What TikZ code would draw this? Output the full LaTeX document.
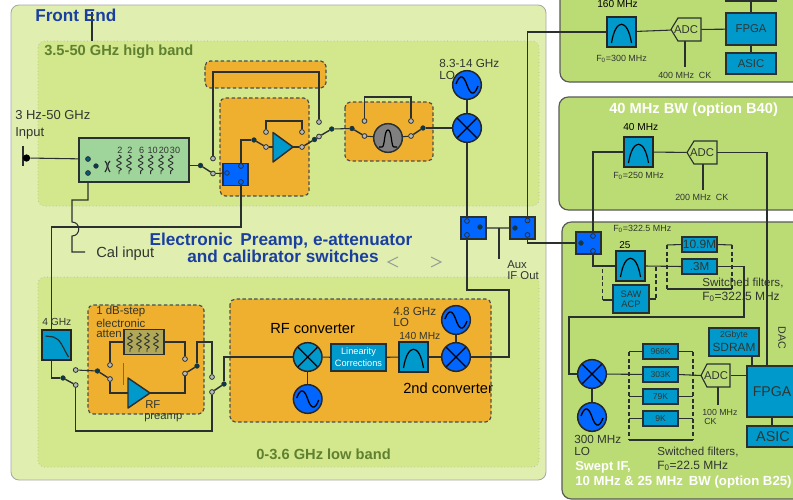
\documentclass[tikz,border=0pt]{standalone}
\usepackage{fontspec}
\setmainfont{Liberation Sans}
\usetikzlibrary{decorations.pathmorphing}
\pgfdeclarelayer{bg}\pgfdeclarelayer{wires}
\pgfsetlayers{bg,wires,main}
\newcommand\fs[1]{\fontsize{#1}{#1}\selectfont}
\definecolor{frontc}{HTML}{E0EEB0}
\definecolor{bandc}{HTML}{D3E88C}
\definecolor{blockc}{HTML}{BBDB75}
\definecolor{orangec}{HTML}{F0B02F}
\definecolor{swblue}{HTML}{0066FF}
\definecolor{teal1}{HTML}{0099CC}
\definecolor{dark}{HTML}{2A3030}
\definecolor{oliv}{HTML}{5F8030}
\definecolor{navy1}{HTML}{1A3FA0}
\definecolor{txtc}{HTML}{303630}
\definecolor{attc}{HTML}{B0A858}
\definecolor{attg}{HTML}{9FD49A}
\tikzset{
 wire/.style={draw=dark,line width=0.8pt},
 armw/.style={draw=dark,line width=1.05pt},
 dash1/.style={draw=dark,line width=0.8pt,dash pattern=on 3pt off 2pt},
 tx/.style={font=\fs{#1},inner sep=0pt,anchor=west,text=txtc},
 txc/.style={font=\fs{#1},inner sep=0pt,anchor=center,text=txtc},
 front/.style={fill=frontc,draw=black!35,line width=0.6pt,rounded corners=6pt},
 band/.style={fill=bandc,draw=black!30,line width=0.5pt,dotted,rounded corners=5pt},
 block/.style={fill=blockc,draw=black!65,line width=0.9pt,rounded corners=7pt},
 orng/.style={fill=orangec,draw=dark!85,line width=0.9pt,dash pattern=on 2.6pt off 1.8pt,rounded corners=4pt},
 ct/.style={circle,inner sep=0pt,minimum size=3.6pt,fill=black!28,draw=dark,line width=0.6pt},
 pv/.style={circle,inner sep=0pt,minimum size=3.4pt,fill=teal1!40!black,draw=dark,line width=0.5pt},
 sq/.style n args={2}{rectangle,inner sep=0pt,minimum width=#1*0.75pt,minimum height=#2*0.75pt},
 sw/.style={sq={25}{22},fill=swblue,draw=dark,line width=0.8pt},
 tbox/.style 2 args={sq={#1}{#2},fill=teal1,draw=dark,line width=0.9pt,text=txtc},
 filt/.style={sq={29}{30},fill=teal1,draw=black!85,line width=1.1pt,
   path picture={\begin{scope}[shift={(path picture bounding box.center)}]
   \draw[black,line width=0.9pt] (-10,11) .. controls (-6,-14) and (6,-14) .. (10,11);\end{scope}}},
 lowp/.style={sq={29}{30},fill=teal1,draw=black!85,line width=1.1pt,
   path picture={\begin{scope}[shift={(path picture bounding box.center)}]
   \draw[dark,line width=0.9pt] (-11,-9) -- (-3,-8) .. controls (4,-6) and (6,2) .. (12,12);\end{scope}}},
 mix/.style={circle,inner sep=0pt,minimum size=21.5pt,fill=#1,draw=black!85,line width=1.1pt,
   path picture={\draw[black,line width=0.9pt] (path picture bounding box.north west)--(path picture bounding box.south east)
     (path picture bounding box.north east)--(path picture bounding box.south west);}},
 osc/.style={circle,inner sep=0pt,minimum size=21.5pt,fill=swblue,draw=black!85,line width=1.1pt,
   path picture={\begin{scope}[shift={(path picture bounding box.center)}]
   \draw[black,line width=1pt] (-11,-1) .. controls (-7,-12) and (-3,-9) .. (0,0) .. controls (3,9) and (7,12) .. (11,1);\end{scope}}},
 ampst/.style={fill=teal1,draw=dark,line width=1.1pt,line join=round},
 squig/.style={draw=dark,line width=0.7pt,decorate,decoration={snake,segment length=4.6pt,amplitude=1.7pt}},
 adcst/.style={draw=dark,line width=0.85pt},
}
\begin{document}
\begin{tikzpicture}[x=0.75pt,y=-0.75pt]
\useasboundingbox (0,0) rectangle (793,500);
\begin{pgfonlayer}{bg}
\fill[white] (0,0) rectangle (793,500);
\draw[front] (11,5) rectangle (546,480);
\draw[band] (38,41) rectangle (539,206);
\draw[band] (38,277) rectangle (539,467);
\draw[orng] (205,61) rectangle (326,88);
\draw[orng] (220,98) rectangle (309,196);
\draw[orng] (345,102) rectangle (433,161);
\draw[orng] (88,305) rectangle (204,414);
\draw[orng] (230,299) rectangle (491,422);
\draw[block] (560,-20) rectangle (820,82);
\draw[block] (559,97) rectangle (820,210);
\draw[block] (562,222) rectangle (820,499);
\end{pgfonlayer}

% ---- titles
\coordinate (festem) at (92,12);
\coordinate (hbtop) at (92,41);
\node (tFE) [tx=12.9,text=navy1,font=\fs{12.9}\bfseries] at (35,15) {Front End};
\node (tHB) [tx=11,text=oliv,font=\fs{11}\bfseries] at (44,52) {3.5-50 GHz high band};
\node (tLB) [tx=11,text=oliv,font=\fs{11}\bfseries] at (256,454) {0-3.6 GHz low band};
\node (tEP) [txc=12.9,text=navy1,font=\fs{12.9}\bfseries] at (281,241) {Electronic\, Preamp, e-attenuator};
\node (tEQ) [txc=12.9,text=navy1,font=\fs{12.9}\bfseries] at (283,256) {and calibrator switches};
\node (tIn1) [tx=9.75] at (15,115) {3 Hz-50 GHz};
\node (tIn2) [tx=9.75] at (15,133) {Input};
\node (tCal) [tx=11] at (96,254) {Cal input};

% ---- input attenuator
\node (inp) [circle,fill=black,inner sep=0pt,minimum size=5.5pt] at (26.5,158) {};
\coordinate (bara) at (23,146); \coordinate (barb) at (23,166);
\node (atb) [sq={110}{44},fill=attg,draw=dark,line width=0.9pt] at (134,160) {};
\node (c1) [ct,fill=teal1!60!black] at (88,159) {};
\node (c2) [ct,fill=teal1!60!black] at (88,173) {};
\node (p1) [pv] at (96,166) {};
\coordinate (capa) at (106,166);
\draw[dark,line width=0.9pt] (105,161) .. controls (108,164) and (108,168) .. (105,172);
\draw[dark,line width=0.9pt] (110,161) .. controls (107,164) and (107,168) .. (110,172);
\foreach \nn/\xx/\tt/\lab in {r1/119/120/2,r2/129/130/2,r3/140.7/141.7/6,r4/150.7/152.7/10,r5/161/164/20,r6/170.7/175/30}{
  \draw[squig] (\xx,155) -- (\xx,174);
  \node (\nn) [txc=6.8] at (\tt,150) {\lab};
}
\coordinate (calend) at (85,252);

% ---- high band
\node (p2) [pv] at (200.5,165.5) {};
\node (c5) [ct] at (213,173.5) {};
\node (c6) [ct] at (213,158.5) {};
\node (sw0) [sw] at (235.5,174.5) {};
\node (p3) [pv,fill=swblue] at (227,173) {};
\node (c3) [ct,fill=swblue] at (241,166) {};
\node (c4) [ct,fill=swblue] at (241,182) {};
\node (p4) [pv] at (254,140) {};
\node (c7) [ct] at (266,147) {};
\node (c8) [ct] at (266,132) {};
\draw[ampst] (273,132.5) coordinate (ampa) -- (273,162) -- (293,147) coordinate (ampb) -- cycle;
\coordinate (ampin) at (273,147);
\node (c9) [ct] at (302,147) {};
\node (c10) [ct] at (302,132) {};
\node (p5) [pv] at (314.5,139.5) {};
\node (c11) [ct] at (319,136.5) {};
\node (c12) [ct] at (319,122) {};
\node (p6) [pv] at (331.7,129) {};
\node (p7) [pv] at (352,128.5) {};
\node (c13) [ct] at (364.5,136) {};
\node (c14) [ct] at (364.5,121) {};
\node (bp) [circle,inner sep=0pt,minimum size=21.5pt,fill=black!50,draw=dark,line width=1.1pt,
   path picture={\begin{scope}[shift={(path picture bounding box.center)}]
   \draw[black,line width=0.9pt] (-9,9) -- (-6,9) .. controls (-3,9) and (-4,-8) .. (0,-8) .. controls (4,-8) and (3,9) .. (6,9) -- (9,9);\end{scope}}] at (388,138) {};
\node (c15) [ct] at (411,136) {};
\node (c16) [ct] at (411,121) {};
\node (p8) [pv] at (423,128) {};
\node (mxh) [mix=swblue] at (467,128) {};
\node (olh) [osc] at (467,85) {};
\node (t83) [tx=8.8] at (439,63) {8.3-14 GHz};
\node (t83b) [tx=8.8] at (439,75) {LO};

% ---- IF switches
\node (sw1) [sw] at (473.5,228) {};
\node (c17) [ct,fill=swblue] at (467,221) {};
\node (c18) [ct,fill=swblue] at (467,235) {};
\node (p9) [pv] at (480,227) {};
\node (sw2) [sw] at (522.5,228) {};
\node (p10) [pv] at (515,228) {};
\node (c19) [ct,fill=swblue] at (527.5,220.5) {};
\node (c20) [ct,fill=swblue] at (527.5,235) {};
\coordinate (auxt) at (499,227.5);
\coordinate (auxb) at (499,259);
\node (tAux) [tx=8.5] at (507,265) {Aux};
\node (tIF) [tx=8.5] at (507,276) {IF Out};
\draw[black!40,line width=0.7pt] (398,257) -- (388,262) -- (398,267);
\draw[black!40,line width=0.7pt] (431,257) -- (441,262) -- (431,267);

% ---- low band
\node (lp) [lowp] at (56.5,345) {};
\node (t4G) [tx=7.7] at (42,322) {4 GHz};
\node (p11) [pv] at (63,378) {};
\node (c21) [ct] at (75.7,370) {};
\node (c22) [ct] at (75.7,385) {};
\node (p12) [pv] at (97.5,371) {};
\node (c23) [ct] at (110,379) {};
\node (c24) [ct] at (110,365) {};
\node (att) [sq={40}{25},fill=attc,draw=dark,line width=0.9pt] at (144,342) {};
\foreach \xx in {130,139,147,156}{\draw[squig] (\xx,333) -- (\xx,352);}
\node (t1dB) [tx=8.6] at (96,312) {1 dB-step};
\node (t1e) [tx=8.6] at (96,323) {electronic};
\node (t1a) [tx=8.6] at (96,334) {atten};
\draw[orangec!60!black,line width=0.4pt] (123,363) -- (123,385);
\draw[ampst] (128,378) -- (128,408) -- (150,393) coordinate (amp2b) -- cycle;
\coordinate (amp2a) at (128,393);
\node (tRF) [tx=8.5] at (145,405) {RF};
\node (tPre) [tx=8.4] at (144,418) {preamp};
\node (c25) [ct] at (185,373.5) {};
\node (c26) [ct] at (185,359) {};
\node (p13) [pv] at (197,366) {};
\node (c27) [ct] at (212,377) {};
\node (c28) [ct] at (212,392) {};
\node (p14) [pv] at (224,384) {};
\node (tRFc) [tx=11,text=black] at (270,329) {RF converter};
\node (mx1) [mix=teal1] at (307.7,357) {};
\node (os1) [osc] at (307.7,399) {};
\node (lin) [tbox={55}{27}] at (358.5,357.5) {};
\node (tLin1) [txc=6.9,text=white] at (358.5,352.5) {Linearity};
\node (tLin2) [txc=6.9,text=white] at (358.5,363) {Corrections};
\node (f140) [filt] at (413.5,357) {};
\node (t140) [tx=7.7] at (399,336) {140 MHz};
\node (mx2) [mix=swblue] at (456,357) {};
\node (os2) [osc] at (456,320) {};
\node (t48) [tx=8.8] at (393,311) {4.8 GHz};
\node (t48b) [tx=8.8] at (393,322) {LO};
\node (t2nd) [tx=11,text=black] at (403,388) {2nd converter};
\coordinate (ifr) at (509,357);

% ---- block 1 (top right)
\node (f160) [filt] at (621.5,32) {};
\node (t160) [tx=7.6,text=black] at (597,4) {160 MHz};
\node (tF1) [tx=6.7] at (596,59) {F\textsubscript{0}=300 MHz};
\draw[adcst] (671,29.5) -- (678,18) -- (701,18) -- (701,41) -- (678,41) -- cycle;
\node (adc1) [sq={30}{23}] at (686,29.5) {\fs{8.5}\color{txtc}ADC};
\coordinate (ck1) at (685,67);
\node (tck1) [tx=6.7] at (658,75) {400 MHz\; CK};
\node (fp1) [tbox={50}{32},font=\fs{8.5}] at (751,29) {FPGA};
\node (as1) [tbox={50}{21},font=\fs{8.5}] at (751,63.5) {ASIC};
\node (top1) [tbox={50}{6}] at (751,-2) {};

% ---- block 2
\node (tB40) [tx=11,text=white,font=\fs{11}\bfseries] at (609,110) {40 MHz BW (option B40)};
\node (t40) [tx=7.6,text=black] at (623,127) {40 MHz};
\node (f40) [filt] at (638.5,152) {};
\node (tF2) [tx=6.7] at (613,176) {F\textsubscript{0}=250 MHz};
\draw[adcst] (687,152.5) -- (694,141) -- (717,141) -- (717,164) -- (694,164) -- cycle;
\node (adc2) [sq={30}{23}] at (702,152.5) {\fs{8.5}\color{txtc}ADC};
\coordinate (ck2) at (703,190);
\node (tck2) [tx=6.7] at (675,197) {200 MHz\; CK};

% ---- block 3
\node (sw3) [sw] at (588.5,243) {};
\node (p15) [pv] at (581,243) {};
\node (c29) [ct,fill=swblue] at (593,236) {};
\node (c30) [ct,fill=swblue] at (593,251) {};
\node (tF3) [tx=6.7] at (613,229) {F\textsubscript{0}=322.5 MHz};
\node (t25) [tx=7.5,text=black] at (619,245) {25};
\node (f25) [filt] at (630.5,266) {};
\node (saw) [tbox={36}{28}] at (631,299) {};
\node (tS1) [txc=7] at (631,294) {SAW};
\node (tS2) [txc=7] at (631,304.5) {ACP};
\node (f109) [tbox={35}{15},font=\fs{9}] at (699.5,244.5) {10.9M};
\node (f3m) [tbox={35}{15},font=\fs{8.7}] at (699.5,266.5) {.3M};
\coordinate (d1a) at (602.5,269); \coordinate (d1b) at (602.5,300);
\coordinate (d2a) at (656,267); \coordinate (d2b) at (656,299);
\coordinate (d3a) at (667,245); \coordinate (d3b) at (667,289);
\coordinate (d4a) at (732,245); \coordinate (d4b) at (732,289);
\node (tSw1) [tx=8.7] at (702,283) {Switched filters,};
\node (tSw2) [tx=9] at (702,297) {F\textsubscript{0}=322.5 MHz};
\node (mx3) [mix=swblue] at (592,374) {};
\node (os3) [osc] at (592,417) {};
\node (t300) [tx=8.8] at (574,439) {300 MHz};
\node (t300b) [tx=8.8] at (574,451) {LO};
\node (f966) [tbox={35}{15},font=\fs{6.4}] at (660.5,351.5) {966K};
\node (f303) [tbox={35}{15},font=\fs{6.4}] at (660.5,374.5) {303K};
\node (f79) [tbox={35}{15},font=\fs{6.4}] at (660.5,396.5) {79K};
\node (f9) [tbox={35}{15},font=\fs{6.4}] at (660.5,418.5) {9K};
\coordinate (d5a) at (629,352); \coordinate (d5b) at (629,440);
\coordinate (d6a) at (693,352); \coordinate (d6b) at (693,440);
\draw[adcst] (701,375.5) -- (707,364) -- (730,364) -- (730,387) -- (707,387) -- cycle;
\node (adc3) [sq={29}{23}] at (716,375.5) {\fs{8.5}\color{txtc}ADC};
\coordinate (ck3) at (718,405);
\node (t100) [tx=6.6] at (702,412) {100 MHz};
\node (t100b) [tx=6.6] at (704,421) {CK};
\node (sdr) [tbox={50}{28}] at (734,342) {};
\node (tSd1) [txc=6.5] at (734,335) {2Gbyte};
\node (tSd2) [txc=8.9] at (734,347) {SDRAM};
\node (fp3) [tbox={60}{51}] at (777,391.5) {};
\node (tFP3) [txc=10.6] at (772,391.5) {FPGA};
\node (as3) [tbox={60}{21}] at (777,436.5) {};
\node (tAS3) [txc=10.8] at (773,436.5) {ASIC};
\node (tDAC) [txc=8,rotate=-90] at (782,338) {DAC};
\node (tSw3) [tx=8.7] at (657,452) {Switched filters,};
\node (tSw4) [tx=9] at (657,466) {F\textsubscript{0}=22.5 MHz};
\node (tSI) [tx=9.7,text=white,font=\fs{9.7}\bfseries] at (575,467) {Swept IF,};
\node (tBW) [tx=9.9,text=white,font=\fs{9.9}\bfseries] at (575,482) {10 MHz \& 25 MHz\, BW (option B25)};

% ---- connectors
\begin{pgfonlayer}{wires}
\draw[wire] (festem) -- (hbtop);
\draw[wire,line width=1pt] (bara) -- (barb);
\draw[wire] (inp) -- (c1);
\draw[armw] (c2) -- (p1) -- (capa);
\draw[wire] (c2) |- (72,200) -- (72,222) .. controls (81,222) and (81,236) .. (72,236) -- (72,252) -- (calend);
\draw[wire] (p2 -| atb.east) -- (p2);
\draw[armw] (p2) -- (c5);
\draw[wire] (c5) -- (p3);
\draw[armw] (p3) -- (c3);
\draw[wire] (c3) |- (p4);
\draw[armw] (p4) -- (c7);
\draw[wire] (c7) -- (ampin);
\draw[wire] (c8) |- (266,121) -| (c10);
\draw[wire] (ampb) -- (c9);
\draw[armw] (c9) -- (p5) -- (c11) -- (p6);
\draw[wire] (c6) |- (212,72) -| (c12);
\draw[wire] (p6) -- (p7);
\draw[armw] (p7) -- (c13);
\draw[wire] (c13) -- (bp);
\draw[wire] (c14) |- (364,97) -| (c16);
\draw[wire] (bp) -- (c15);
\draw[armw] (c15) -- (p8);
\draw[wire] (p8) -- (mxh);
\draw[wire] (mxh) -- (olh);
\draw[wire] (mxh) -- (c17);
\draw[armw] (c18) -- (p9);
\draw[wire] (p9) -- (sw1.east) -- (p10);
\draw[armw] (p10) -- (c19);
\draw[wire] (auxt) -- (auxb);
\draw[wire] (c4) |- (51.7,227) -- (lp.north -| 51.7,0);
\draw[wire] (51.7,360) |- (p11);
\draw[armw] (p11) -- (c22);
\draw[wire] (c21) -- (p12);
\draw[armw] (p12) -- (c23);
\draw[wire] (c23) |- (amp2a);
\draw[wire] (c24) |- (att.west);
\draw[wire] (att.east) -| (c26);
\draw[wire] (amp2b) -| (c25);
\draw[armw] (c25) -- (p13);
\draw[wire] (p13) |- (212,342) -- (c27);
\draw[wire] (c28) |- (75.7,431) -- (c22);
\draw[armw] (c28) -- (p14);
\draw[wire] (p14) |- (mx1.west);
\draw[wire] (mx1) -- (os1);
\draw[wire] (mx1) -- (lin);
\draw[wire] (lin) -- (f140);
\draw[wire] (f140) -- (mx2);
\draw[wire] (mx2) -- (os2);
\draw[wire] (mx2) -- (ifr) |- (467,290) -- (c18);
\draw[wire] (c19) -- (527.5,32) -- (f160.west);
\draw[wire] (c20) |- (p15);
\draw[wire] (f160) -- (adc1);
\draw[wire] (adc1) -- (fp1);
\draw[wire] (685,41) -- (ck1);
\draw[wire] (top1) -- (fp1);
\draw[wire] (fp1) -- (as1);
\draw[wire] (c29) |- (f40.west);
\draw[wire] (f40) -- (adc2);
\draw[wire] (adc2.east) -| (767,366);
\draw[wire] (703,164) -- (ck2);
\draw[armw] (p15) -- (c29);
\draw[wire] (c30) |- (f25.west);
\draw[wire] (f25.east) -- (f3m.west);
\draw[dash1] (d1a) -- (d1b);
\draw[wire] (d1b) -- (d1b -| saw.west);
\draw[dash1] (d2a) -- (d2b);
\draw[wire] (d2b) -- (d2b -| saw.east);
\draw[dash1] (d3a) -- (d3b);
\draw[wire] (d3a) -- (f109.west);
\draw[dash1] (d4a) -- (d4b);
\draw[wire] (f109.east) -- (d4a);
\draw[wire] (d3b) -- (d4b);
\draw[wire] (f3m.east) -- (744,266.5) |- (569,317) |- (mx3.west);
\draw[wire] (mx3) -- (os3);
\draw[wire] (mx3) -- (f303);
\draw[dash1] (d5a) -- (d5b);
\draw[dash1] (d6a) -- (d6b);
\draw[wire] (d5b) -- (d6b);
\foreach \ff in {f966,f79,f9}{
  \draw[wire] (\ff.west) -- (\ff.west -| d5a);
  \draw[wire] (\ff.east) -- (\ff.east -| d6a);
}
\draw[wire] (f303.east) -- (adc3.west);
\draw[wire] (adc3.east) -- (fp3.west |- adc3.east);
\draw[wire] (718,387) -- (ck3);
\draw[wire] (752,356) -- (752,366);
\draw[wire] (772,417) -- (772,426);
\end{pgfonlayer}
\end{tikzpicture}
\end{document}
